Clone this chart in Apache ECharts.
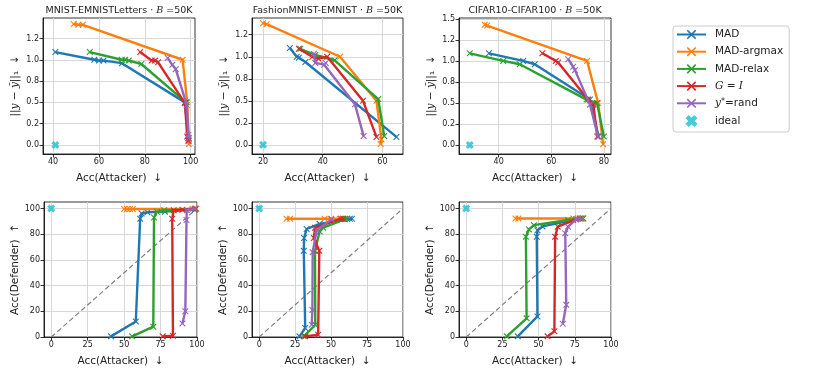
<!DOCTYPE html>
<html>
<head>
<meta charset="utf-8">
<script src="https://cdn.jsdelivr.net/npm/echarts@6/dist/echarts.min.js"></script>
<style>
  html, body { margin: 0; padding: 0; background: #fff; }
  #chart { width: 830px; height: 376px; }
</style>
</head>
<body>
<div id="chart"></div>
<script>
const methods = ['MAD', 'MAD-argmax', 'MAD-relax', 'G = I', 'y*=rand'];
const colors = ['#1f77b4', '#ff7f0e', '#2ca02c', '#d62728', '#9467bd'];
const idealColor = '#17becf';
const titles = ['MNIST-EMNISTLetters', 'FashionMNIST-EMNIST', 'CIFAR10-CIFAR100'];

// top row: Acc(Attacker) vs ||y - y~||_1, one list per method
const mnistTop = [
  [[41, 1.09], [58, 1.0], [60, 0.99], [62, 0.99], [70, 0.96], [97.5, 0.5], [99, 0.08]],
  [[49, 1.42], [51, 1.41], [53, 1.41], [96.5, 1.0], [98.5, 0.5], [99.2, 0.05], [99.2, 0.01]],
  [[56, 1.09], [70, 1.0], [71.5, 1.0], [73, 0.99], [78.5, 0.95], [98, 0.5], [99, 0.08]],
  [[78, 1.09], [83, 0.99], [84.5, 0.99], [85.8, 0.97], [97.5, 0.49], [98.5, 0.1], [99, 0.05]],
  [[90, 1.02], [92, 0.94], [93.5, 0.89], [98.3, 0.47], [99, 0.12], [99.2, 0.08]]
];
const fashionTop = [
  [[29, 1.1], [31.3, 1.0], [32, 0.99], [34.2, 0.94], [64.7, 0.09]],
  [[20, 1.38], [21.2, 1.37], [45.8, 1.0], [58, 0.5], [59.7, 0.06], [59.4, 0.01]],
  [[32.5, 1.09], [37.5, 1.02], [44, 0.96], [58.6, 0.52], [60.6, 0.1]],
  [[32, 1.09], [36.5, 1.0], [38.5, 0.98], [41.5, 1.0], [53.5, 0.5], [58, 0.09]],
  [[37, 1.03], [37.5, 0.93], [40.5, 0.91], [41, 0.93], [50.8, 0.46], [53.7, 0.1]]
];
const cifarTop = [
  [[36.3, 1.09], [49.3, 1.0], [53.7, 0.96], [74.7, 0.54], [78, 0.1]],
  [[34.7, 1.43], [35.6, 1.42], [73.6, 1.0], [77.8, 0.5], [79.7, 0.01]],
  [[29, 1.09], [41.7, 1.0], [48, 0.96], [73.4, 0.54], [77.4, 0.5], [80, 0.1]],
  [[56.6, 1.09], [61.7, 1.0], [62.6, 0.98], [74, 0.54], [76, 0.48], [77.5, 0.1]],
  [[66.4, 1.02], [68.3, 0.93], [69, 0.89], [74.7, 0.48], [77.8, 0.1]]
];
const idealTop = [[41, 0], [20, 0], [29, 0]];

// bottom row: Acc(Attacker) vs Acc(Defender)
const mnistBottom = [
  [[41, 0.5], [58, 12], [61, 92], [62, 96], [66, 97], [78, 97.5], [98.5, 99.2]],
  [[50, 99.5], [52, 99.5], [54, 99.5], [56, 99.5], [97, 99.5], [99, 99.7], [99.5, 99.8]],
  [[55.5, 0.5], [70, 8], [70.5, 93], [72.5, 97.4], [77.5, 98.5], [98.5, 99.2]],
  [[76.5, 0.5], [83.5, 1], [83, 92], [84, 98.5], [90, 99], [99, 99.7]],
  [[90, 10.5], [92, 20], [92.8, 91], [93, 98.5], [98.5, 99.8]]
];
const fashionBottom = [
  [[28, 0.5], [32, 7], [31, 67], [31.2, 77], [33, 84], [42, 88], [63, 92], [64.5, 92]],
  [[19, 92], [21.5, 92], [45.5, 92], [50, 92], [56, 92], [58.5, 92]],
  [[31, 0.5], [39, 9.5], [38.8, 67], [42, 82], [44.5, 85], [59.5, 91.5], [61, 92]],
  [[32, 0.5], [41, 1.8], [41.8, 67], [38, 77], [38.8, 85], [57, 92], [58.5, 92]],
  [[36.5, 9.5], [37, 21], [37.2, 66], [40, 83], [50.3, 91.5]]
];
const cifarBottom = [
  [[35.6, 0.5], [49.2, 16], [48.7, 78], [49.2, 83], [52.7, 86], [73.8, 91], [79.6, 92.2]],
  [[34, 92.2], [36, 92.2], [74, 92.2], [77, 92.2], [80.8, 92.2]],
  [[28, 0.5], [41.7, 14.5], [41.2, 78], [43.3, 83.7], [46.8, 87], [70.3, 91], [80.8, 92.2]],
  [[56.2, 0.5], [60.9, 4.4], [61.4, 78], [63.2, 85.8], [76, 91.5], [78.5, 92.2]],
  [[66.7, 10.3], [69.1, 25], [68.4, 80.6], [70.3, 85.8], [76, 91.5], [79.6, 92.2]]
];
const idealBottom = [0, 100];
const diagonal = [[0, 0], [100, 100]];

// tick values / labels
const topXTicks = [0, 20, 40, 60, 80, 100];
const topYTicks = [0, 0.25, 0.5, 0.75, 1.0, 1.25, 1.5];
const topYLabels = ['0.0', '0.2', '0.5', '0.8', '1.0', '1.2', '1.5'];
const bottomXTicks = [0, 25, 50, 75, 100];
const bottomYTicks = [0, 20, 40, 60, 80, 100];

const panels = [mnistTop, fashionTop, cifarTop, mnistBottom, fashionBottom, cifarBottom];

const grids = [
  { left: 43, top: 18, width: 152, height: 136 },
  { left: 252, top: 18, width: 151, height: 136 },
  { left: 459, top: 18, width: 152, height: 136 },
  { left: 44, top: 202, width: 153, height: 135 },
  { left: 252, top: 202, width: 151, height: 135 },
  { left: 459, top: 202, width: 152, height: 135 }
];
const xRanges = [[35.6, 101.9], [16.3, 66.9], [24.9, 82.7], [-5, 100], [-5, 100], [-5, 100]];
const yRanges = [[-0.106, 1.49], [-0.104, 1.44], [-0.107, 1.51], [0, 105], [0, 105], [0, 105]];

const FONT = 'DejaVu Sans';
const xMark = 'path://M1.2,0 L5,3.8 L8.8,0 L10,1.2 L6.2,5 L10,8.8 L8.8,10 L5,6.2 L1.2,10 L0,8.8 L3.8,5 L0,1.2 Z';
const bigX = 'path://M2.7,0 L5,2.3 L7.3,0 L10,2.7 L7.7,5 L10,7.3 L7.3,10 L5,7.7 L2.7,10 L0,7.3 L2.3,5 L0,2.7 Z';

const mathRich = {
  i: { fontFamily: 'DejaVu Serif', fontStyle: 'italic', fontSize: 10.5, color: '#222' },
  s: { fontFamily: FONT, fontSize: 10.5, color: '#222' }
};

function axisBase(range, ticks, formatter, name, gap, rotate) {
  return {
    type: 'value',
    min: range[0],
    max: range[1],
    name: name,
    nameLocation: 'middle',
    nameGap: gap,
    nameRotate: rotate,
    nameTextStyle: { fontFamily: FONT, fontSize: 10.5, color: '#222', rich: mathRich },
    axisLine: { show: true, onZero: false, lineStyle: { color: '#000', width: 0.8 } },
    axisTick: { show: true, length: 3.5, lineStyle: { color: '#000', width: 0.8 }, customValues: ticks },
    axisLabel: { fontFamily: FONT, fontSize: 8, color: '#222', margin: 4, customValues: ticks, formatter: formatter },
    splitLine: { show: true, lineStyle: { color: '#d4d4d4', width: 0.9 } }
  };
}

const xAxes = [];
const yAxes = [];
for (let p = 0; p < 6; p++) {
  const top = p < 3;
  xAxes.push(Object.assign(
    axisBase(xRanges[p], top ? topXTicks : bottomXTicks, v => String(Math.round(v)), 'Acc(Attacker)  ↓', 19, 0),
    { gridIndex: p }
  ));
  const yName = top ? '||{i|y} − {i|ỹ}||₁  ↓' : 'Acc(Defender)  ↑';
  const yFmt = top
    ? v => topYLabels[topYTicks.findIndex(t => Math.abs(t - v) < 1e-6)]
    : v => String(Math.round(v));
  yAxes.push(Object.assign(
    axisBase(yRanges[p], top ? topYTicks : bottomYTicks, yFmt, yName, top ? 22 : 23, 90),
    { gridIndex: p }
  ));
}

const series = [];
panels.forEach((panel, p) => {
  if (p >= 3) {
    series.push({
      type: 'line', xAxisIndex: p, yAxisIndex: p, data: diagonal, symbol: 'none', silent: true,
      lineStyle: { color: '#808080', width: 1.2, type: [5, 3] }, z: 1
    });
  }
  panel.forEach((pts, m) => {
    series.push({
      type: 'line', name: methods[m], xAxisIndex: p, yAxisIndex: p, data: pts,
      symbol: xMark, symbolSize: 6.5, showAllSymbol: true,
      lineStyle: { color: colors[m], width: 2.4 },
      itemStyle: { color: colors[m] },
      z: 2 + m
    });
  });
  series.push({
    type: 'scatter', name: 'ideal', xAxisIndex: p, yAxisIndex: p,
    data: [p < 3 ? idealTop[p] : idealBottom],
    symbol: bigX, symbolSize: 8, itemStyle: { color: idealColor }, z: 10
  });
});

const graphic = titles.map((t, i) => ({
  type: 'text',
  x: grids[i].left + grids[i].width / 2,
  y: 10.5,
  style: {
    text: t + ' · {b|B} =50K',
    align: 'center',
    verticalAlign: 'middle',
    fontFamily: FONT,
    fontSize: 9.5,
    fill: '#222',
    rich: { b: { fontFamily: 'DejaVu Serif', fontStyle: 'italic', fontSize: 9.5, color: '#222' } }
  }
}));

const legendNames = methods.concat(['ideal']);
const legendLabels = { 'G = I': '{m|G} = {m|I}', 'y*=rand': '{m|y}{sup|*}=rand' };

const chart = echarts.init(document.getElementById('chart'));
chart.setOption({
  animation: false,
  backgroundColor: '#fff',
  grid: grids.map(g => Object.assign({ show: true, borderColor: '#000', borderWidth: 0.8, backgroundColor: 'transparent' }, g)),
  xAxis: xAxes,
  yAxis: yAxes,
  series: series,
  graphic: graphic,
  legend: {
    data: legendNames,
    orient: 'vertical',
    left: 673,
    top: 26,
    padding: [3, 6, 5, 3],
    itemWidth: 29,
    itemHeight: 12,
    itemGap: 6.2,
    borderColor: '#ccc',
    borderWidth: 1,
    borderRadius: 3,
    selectedMode: false,
    formatter: name => legendLabels[name] || name,
    textStyle: {
      fontFamily: FONT, fontSize: 10.5, color: '#222', padding: [0, 0, 0, 4],
      rich: {
        m: { fontFamily: 'DejaVu Serif', fontStyle: 'italic', fontSize: 10.5, color: '#222' },
        sup: { fontFamily: FONT, fontSize: 8, color: '#222', verticalAlign: 'top' }
      }
    }
  }
});
window.onresize = function () {
  chart.resize();
};
</script>
</body>
</html>
